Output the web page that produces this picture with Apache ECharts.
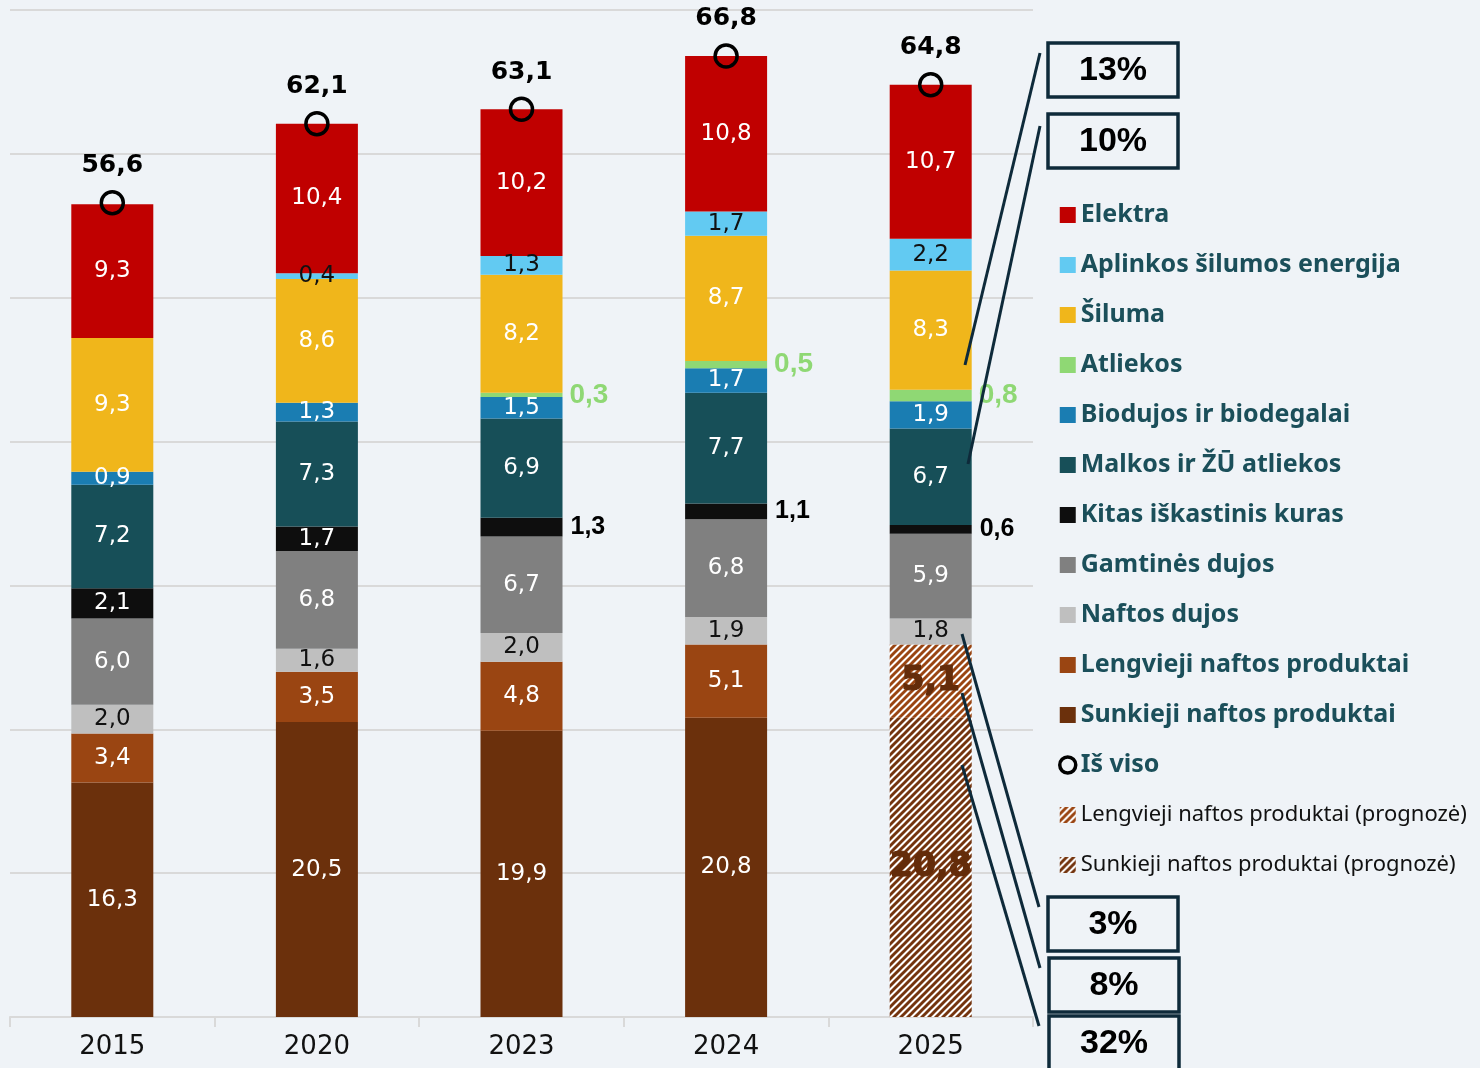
<!DOCTYPE html>
<html>
<head>
<meta charset="utf-8">
<script src="https://cdn.jsdelivr.net/npm/echarts@6/dist/echarts.min.js"></script>
<style>
    html, body { margin: 0; padding: 0; background: #eff3f7; }
    #chart { width: 1480px; height: 1068px; }
</style>
</head>
<body>
<div id="chart"></div>
<script>
    // duomenys (bottom -> top)
    var years = ['2015', '2020', '2023', '2024', '2025'];
    var sunkieji = [16.3, 20.5, 19.9, 20.8, 0];
    var sunkiejiPrognoze = [0, 0, 0, 0, 20.8];
    var lengvieji = [3.4, 3.5, 4.8, 5.1, 0];
    var lengviejiPrognoze = [0, 0, 0, 0, 5.1];
    var naftosDujos = [2.0, 1.6, 2.0, 1.9, 1.8];
    var gamtinesDujos = [6.0, 6.8, 6.7, 6.8, 5.9];
    var kitasKuras = [2.1, 1.7, 1.3, 1.1, 0.6];
    var malkos = [7.2, 7.3, 6.9, 7.7, 6.7];
    var biodujos = [0.9, 1.3, 1.5, 1.7, 1.9];
    var atliekos = [0, 0, 0.3, 0.5, 0.8];
    var siluma = [9.3, 8.6, 8.2, 8.7, 8.3];
    var aplinkos = [0, 0.4, 1.3, 1.7, 2.2];
    var elektra = [9.3, 10.4, 10.2, 10.8, 10.7];
    var isViso = [56.6, 62.1, 63.1, 66.8, 64.8];
    var dalys = ['13%', '10%', '3%', '8%', '32%'];

    var chart = echarts.init(document.getElementById('chart'));

    // brūkšniuotas raštas prognozei
    function hatch(color) {
        var c = document.createElement('canvas');
        c.width = 7; c.height = 7;
        var ctx = c.getContext('2d');
        ctx.fillStyle = '#ffffff';
        ctx.fillRect(0, 0, 7, 7);
        ctx.strokeStyle = color;
        ctx.lineWidth = 2.9;
        ctx.beginPath();
        ctx.moveTo(-2, 9); ctx.lineTo(9, -2);
        ctx.moveTo(-5, 5); ctx.lineTo(5, -5);
        ctx.moveTo(2, 12); ctx.lineTo(12, 2);
        ctx.stroke();
        return { image: c, repeat: 'repeat' };
    }

    function fmt(p) {
        var v = p.value;
        if (!v) return '';
        return v.toFixed(1).replace('.', ',');
    }

    var baseLabel = {
        show: true,
        position: 'inside',
        color: '#ffffff',
        fontSize: 23,
        fontFamily: 'DejaVu Sans',
        formatter: fmt
    };

    function bar(name, data, color, label) {
        return {
            name: name,
            type: 'bar',
            stack: 'viso',
            barWidth: 82,
            data: data,
            itemStyle: { color: color },
            label: Object.assign({}, baseLabel, label || {})
        };
    }

    var outsideBold = { position: 'right', distance: 8, color: '#000', fontWeight: 'bold', fontSize: 25, fontFamily: 'Liberation Sans' };
    var kitasData = kitasKuras.map(function (v, i) {
        return i >= 2 ? { value: v, label: outsideBold } : v;
    });

    var hatchLabel = { color: '#642c0a', fontSize: 33, fontWeight: 'bold', textBorderColor: '#642c0a', textBorderWidth: 1.2 };

    var series = [
        bar('Sunkieji naftos produktai', sunkieji, '#6b300c'),
        bar('Sunkieji naftos produktai (prognozė)', sunkiejiPrognoze, hatch('#74340e'), hatchLabel),
        bar('Lengvieji naftos produktai', lengvieji, '#9a4512'),
        bar('Lengvieji naftos produktai (prognozė)', lengviejiPrognoze, hatch('#9a4512'), hatchLabel),
        bar('Naftos dujos', naftosDujos, '#bfbfbf', { color: '#111' }),
        bar('Gamtinės dujos', gamtinesDujos, '#808080'),
        bar('Kitas iškastinis kuras', kitasData, '#0e0e0e'),
        bar('Malkos ir ŽŪ atliekos', malkos, '#174f58'),
        bar('Biodujos ir biodegalai', biodujos, '#1a7db2'),
        bar('Atliekos', atliekos, '#8fd874', { position: 'right', distance: 7, color: '#8fd874', fontWeight: 'bold', fontSize: 28, fontFamily: 'Liberation Sans' }),
        bar('Šiluma', siluma, '#f0b61b'),
        bar('Aplinkos šilumos energija', aplinkos, '#62caf2', { color: '#111' }),
        bar('Elektra', elektra, '#c00000'),
        {
            name: 'Iš viso',
            type: 'scatter',
            data: isViso,
            symbol: 'circle',
            symbolSize: 22,
            z: 10,
            itemStyle: { color: 'rgba(0,0,0,0)', borderColor: '#000', borderWidth: 3.5, opacity: 1 },
            label: {
                show: true, position: 'top', distance: 12,
                color: '#000', fontSize: 25, fontWeight: 'bold', fontFamily: 'DejaVu Sans',
                formatter: fmt
            }
        }
    ];

    var legendMain = ['Elektra', 'Aplinkos šilumos energija', 'Šiluma', 'Atliekos', 'Biodujos ir biodegalai',
        'Malkos ir ŽŪ atliekos', 'Kitas iškastinis kuras', 'Gamtinės dujos', 'Naftos dujos',
        'Lengvieji naftos produktai', 'Sunkieji naftos produktai'];
    var legendData = legendMain.map(function (n) { return { name: n, icon: 'rect' }; });
    legendData.push({ name: 'Iš viso', icon: 'circle', itemStyle: { borderWidth: 3.5, borderColor: '#000', color: 'rgba(0,0,0,0)', opacity: 1 } });
    var progText = { fontWeight: 'normal', color: '#111', fontSize: 22, fontFamily: 'Noto Sans' };
    legendData.push({ name: 'Lengvieji naftos produktai (prognozė)', icon: 'rect', textStyle: progText });
    legendData.push({ name: 'Sunkieji naftos produktai (prognozė)', icon: 'rect', textStyle: progText });

    // anotacijų linijos ir rėmeliai
    var lineStyle = { stroke: '#0e2a3a', lineWidth: 3 };
    var boxes = [[1048, 43], [1048, 114], [1048, 897], [1049, 958], [1049, 1016]];
    var links = [
        [[965, 365], [1040, 53]],
        [[968, 464], [1040, 126]],
        [[962, 634], [1039, 907]],
        [[962, 693], [1040, 968]],
        [[962, 765], [1039, 1026]]
    ];
    var graphic = [];
    links.forEach(function (l) {
        graphic.push({ type: 'line', shape: { x1: l[0][0], y1: l[0][1], x2: l[1][0], y2: l[1][1] }, style: lineStyle, z: 20 });
    });
    boxes.forEach(function (b, i) {
        graphic.push({ type: 'rect', shape: { x: b[0], y: b[1], width: 130, height: 54 },
            style: { fill: '#eff3f7', stroke: '#0e2a3a', lineWidth: 3.5 }, z: 20 });
        graphic.push({ type: 'text', x: b[0] + 65, y: b[1] + 28,
            style: { text: dalys[i], fill: '#000', font: 'bold 34px "Liberation Sans"', align: 'center', verticalAlign: 'middle' }, z: 21 });
    });

    var option = {
        backgroundColor: '#eff3f7',
        animation: false,
        grid: { left: 10, right: 447, top: 10, bottom: 51, containLabel: false },
        legend: {
            orient: 'vertical',
            left: 1053,
            top: 195,
            itemWidth: 16,
            itemHeight: 16,
            itemGap: 20,
            textStyle: { fontFamily: 'Noto Sans', fontWeight: 'bold', fontSize: 25, color: '#1b4f5a', lineHeight: 30 },
            data: legendData
        },
        xAxis: {
            type: 'category',
            data: years,
            axisLine: { lineStyle: { color: '#d9d9d9', width: 2 } },
            axisTick: { show: true, length: 10, lineStyle: { color: '#d9d9d9', width: 2 } },
            axisLabel: { color: '#111', fontSize: 26, fontFamily: 'DejaVu Sans', margin: 17 }
        },
        yAxis: {
            type: 'value',
            min: 0,
            max: 70,
            interval: 10,
            axisLabel: { show: false },
            axisLine: { show: false },
            axisTick: { show: false },
            splitLine: { lineStyle: { color: '#d9d9d9', width: 2 } }
        },
        series: series,
        graphic: graphic
    };
    chart.setOption(option);
</script>
</body>
</html>
